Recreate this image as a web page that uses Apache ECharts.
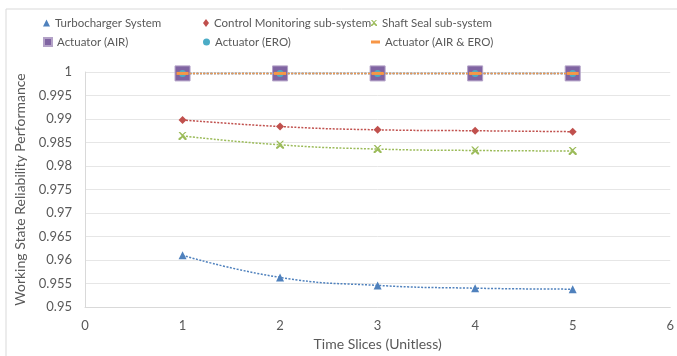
<!DOCTYPE html>
<html>
<head>
<meta charset="utf-8">
<script src="https://cdn.jsdelivr.net/npm/echarts@6/dist/echarts.min.js"></script>
<style>
  html, body { margin: 0; padding: 0; background: #fff; }
  #chart { width: 677px; height: 356px; }
</style>
</head>
<body>
<div id="chart"></div>
<script>
  // time slices
  const slices = [1, 2, 3, 4, 5];

  // reliability per subsystem
  const turbocharger = [0.9610, 0.9563, 0.9546, 0.9540, 0.9538];
  const controlMonitoring = [0.9898, 0.9884, 0.9877, 0.9875, 0.9873];
  const shaftSeal = [0.9864, 0.9845, 0.9836, 0.9833, 0.9832];
  const actuatorAir = [0.9997, 0.9997, 0.9997, 0.9997, 0.9997];
  const actuatorEro = [0.9997, 0.9997, 0.9997, 0.9997, 0.9997];
  const actuatorBoth = [0.9997, 0.9997, 0.9997, 0.9997, 0.9997];

  const names = ['Turbocharger System', 'Control Monitoring sub-system', 'Shaft Seal sub-system',
                 'Actuator (AIR)', 'Actuator (ERO)', 'Actuator (AIR & ERO)'];
  const values = [turbocharger, controlMonitoring, shaftSeal, actuatorAir, actuatorEro, actuatorBoth];

  const colors = ['#4F81BD', '#C0504D', '#9BBB59', '#8064A2', '#4BACC6', '#F79646'];
  const xPath = 'path://M0,0 L2,0 L5,3 L8,0 L10,0 L6,4 L10,8 L10,10 L8,10 L5,7 L2,10 L0,10 L0,8 L4,5 L0,0 Z';
  const symbols = ['triangle', 'diamond', xPath, 'rect', 'circle', 'rect'];
  const sizes = [8, 8, 8, 15, 7, [12, 3]];
  const legendPos = [[38, 12], [198, 12], [366, 12], [38, 31], [198, 31], [366, 31]];
  const legendIcon = ['triangle', 'diamond', xPath, 'rect', 'circle', 'rect'];
  const legendSize = [[7, 7], [6, 8], [6, 6], [8, 8], [7, 7], [9, 3]];

  const font = 'Lato, "Open Sans", sans-serif';

  const chart = echarts.init(document.getElementById('chart'));

  const series = names.map((n, i) => ({
    name: n,
    type: 'line',
    smooth: 0.5,
    data: slices.map((s, k) => [s, values[i][k]]),
    symbol: symbols[i],
    symbolSize: sizes[i],
    lineStyle: { color: colors[i], width: 1.5, type: [2, 1.5] },
    itemStyle: {
      color: colors[i],
      borderColor: i === 3 ? '#B3A2C7' : colors[i],
      borderWidth: i === 3 ? 1 : 0
    },
    z: 2 + i
  }));

  const legends = names.map((n, i) => ({
    data: [{ name: n, icon: legendIcon[i] }],
    left: legendPos[i][0],
    top: legendPos[i][1],
    itemWidth: legendSize[i][0],
    itemHeight: legendSize[i][1],
    selectedMode: false,
    textStyle: { fontFamily: font, fontSize: 11.5, color: '#595959' }
  }));

  chart.setOption({
    animation: false,
    backgroundColor: '#fff',
    color: colors,
    legend: legends,
    graphic: [{
      type: 'polyline',
      shape: { points: [[6, 356], [6, 9], [677, 9]] },
      style: { stroke: '#D9D9D9', lineWidth: 1, fill: null }
    }],
    grid: { left: 85, right: 5, top: 72, bottom: 48 },
    xAxis: {
      type: 'value', min: 0, max: 6, interval: 1,
      name: 'Time Slices (Unitless)', nameLocation: 'middle', nameGap: 30,
      nameTextStyle: { fontFamily: font, fontSize: 14, color: '#595959' },
      axisLine: { show: true, lineStyle: { color: '#D9D9D9' } },
      axisTick: { show: false },
      splitLine: { show: false },
      axisLabel: { fontFamily: font, fontSize: 13, color: '#595959', margin: 12 }
    },
    yAxis: {
      type: 'value', min: 0.95, max: 1, interval: 0.005,
      name: 'Working State Reliability Performance', nameLocation: 'middle', nameGap: 56,
      nameTextStyle: { fontFamily: font, fontSize: 14, color: '#595959' },
      axisLine: { show: true, lineStyle: { color: '#D9D9D9' } },
      axisTick: { show: false },
      splitLine: { lineStyle: { color: '#E6E6E6' } },
      axisLabel: {
        fontFamily: font, fontSize: 13, color: '#595959', margin: 13,
        formatter: v => String(parseFloat(v.toFixed(3)))
      }
    },
    series: series
  });
</script>
</body>
</html>
